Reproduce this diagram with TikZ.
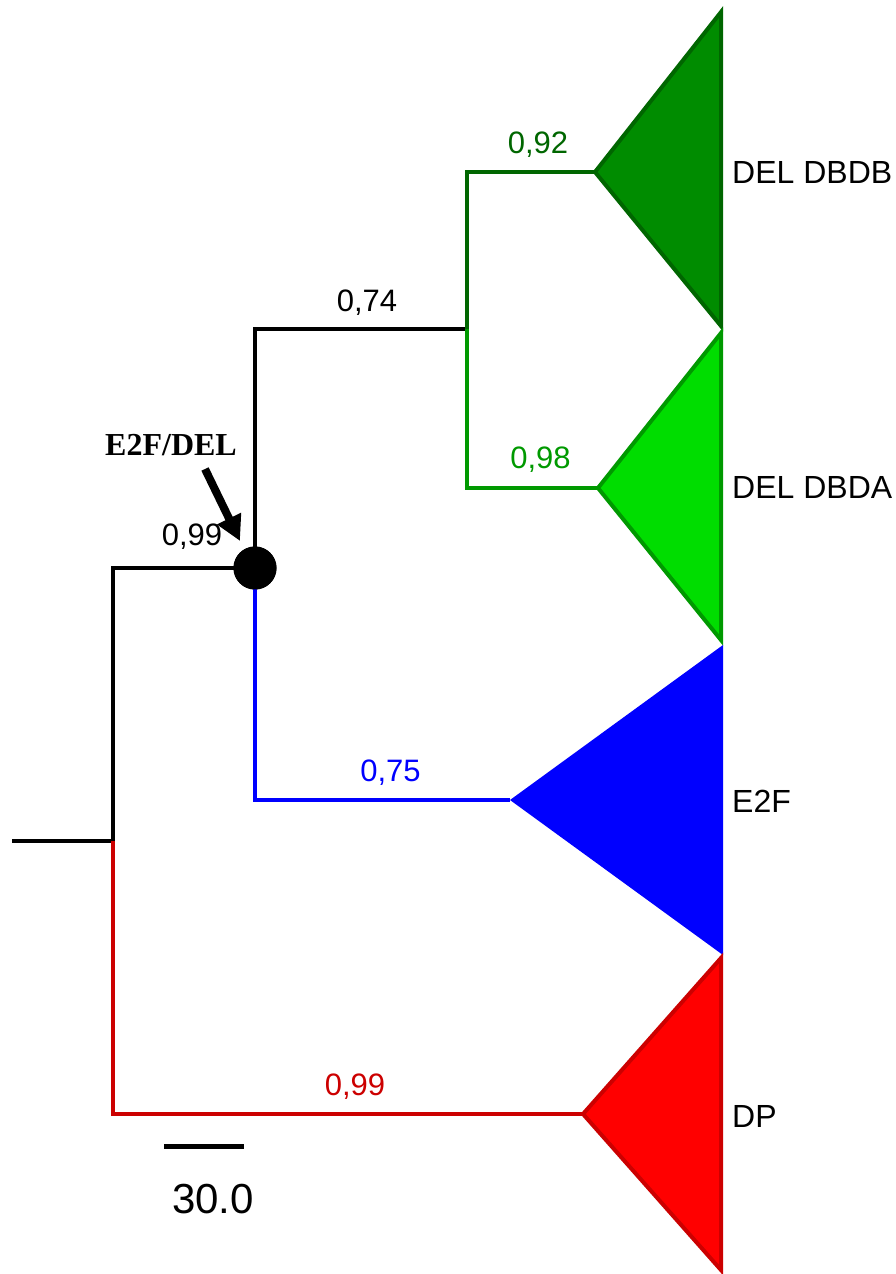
\documentclass[tikz,border=0pt]{standalone}
\usepackage{fontspec}
\setmainfont{Liberation Sans}
\newfontfamily\timesbold[BoldFont={Liberation Serif Bold}]{Liberation Serif}
\usetikzlibrary{arrows.meta}

\definecolor{dbdbline}{HTML}{006600}
\definecolor{dbdbfill}{HTML}{008C00}
\definecolor{dbdaline}{HTML}{009900}
\definecolor{dbdafill}{HTML}{00DD00}
\definecolor{e2fblue}{HTML}{0000FF}
\definecolor{dpline}{HTML}{CC0000}
\definecolor{dpfill}{HTML}{FF0000}

\tikzset{
  branch/.style={line width=4pt},
  clade/.style={line width=4pt, line join=miter},
  support/.style={font=\fontsize{31}{36}\selectfont, anchor=base, inner sep=0pt},
  taxon/.style={font=\fontsize{32}{38}\selectfont, anchor=west, inner sep=0pt}
}

\begin{document}
\begin{tikzpicture}[x=1pt,y=-1pt]
        \useasboundingbox (0,0) rectangle (896,1274);

        \coordinate (root) at (12,841);
        \coordinate (r) at (113,841);
        \coordinate (del) at (467,329);
        \coordinate (dbdbtip) at (595,172);
        \coordinate (dbdatip) at (598,488);
        \coordinate (e2ftip) at (510,800);
        \coordinate (dptip) at (583,1114);
        \node[circle, fill=black, minimum size=43pt, inner sep=0pt] (e2fdel) at (255,568) {};

        % branches
        \draw[branch] (root) -- (r);
        \draw[branch, dpline] (r) |- (dptip) node[support, pos=0.75, xshift=7pt, yshift=19pt]{0,99};
        \draw[branch] (r) |- (e2fdel.center) node[support, pos=0.75, xshift=8pt, yshift=23pt]{0,99};
        \draw[branch, e2fblue] (e2fdel.center) |- (e2ftip) node[support, pos=0.75, xshift=8pt, yshift=19pt]{0,75};
        \draw[branch] (e2fdel.center) |- (del) node[support, pos=0.75, xshift=6pt, yshift=18pt]{0,74};
        \draw[branch, dbdbline] (del) |- (dbdbtip) node[support, pos=0.75, xshift=7pt, yshift=19pt]{0,92};
        \draw[branch, dbdaline] (del) |- (dbdatip) node[support, pos=0.75, xshift=8pt, yshift=20pt]{0,98};
        \node[circle, fill=black, minimum size=43pt, inner sep=0pt] at (e2fdel) {};

        % collapsed clades
        \draw[clade, draw=dbdbline, fill=dbdbfill] (dbdbtip) -- (721,12) -- (721,326) -- cycle;
        \draw[clade, draw=dbdaline, fill=dbdafill] (dbdatip) -- (721,333) -- (721,640) -- cycle;
        \fill[e2fblue] (e2ftip) -- (723,645) -- (723,955) -- cycle;
        \draw[clade, draw=dpline, fill=dpfill] (dptip) -- (721,958) -- (721,1270) -- cycle;

        \node[taxon] (dbdb) at (732,172) {DEL DBDB};
        \node[taxon] (dbda) at (732,487) {DEL DBDA};
        \node[taxon] (e2f) at (732,801) {E2F};
        \node[taxon] (dp) at (732,1116) {DP};

        % duplication label
        \node[font=\timesbold\bfseries\fontsize{32}{36}\selectfont, anchor=base, inner sep=0pt] (duplabel) at (171,455) {E2F/DEL};
        \coordinate (arrtail) at (205,469);
        \coordinate (arrtip) at (240,541);
        \draw[line width=8pt, -{Triangle[length=25pt, width=25pt]}] (arrtail) -- (arrtip);

        % scale bar
        \coordinate (sbleft) at (164,1146);
        \coordinate (sbright) at (244,1146);
        \draw[line width=5pt] (sbleft) -- (sbright);
        \node[font=\fontsize{42}{48}\selectfont, anchor=base, inner sep=0pt] (sblabel) at (213,1213) {30.0};
    \end{tikzpicture}
\end{document}
